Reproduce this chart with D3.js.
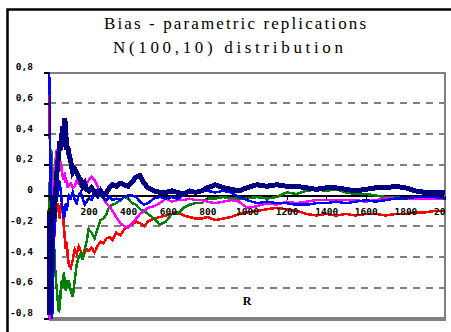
<!DOCTYPE html>
<html>
<head>
<meta charset="utf-8">
<script src="https://cdnjs.cloudflare.com/ajax/libs/d3/7.8.5/d3.min.js"></script>
<style>
  html, body { margin: 0; padding: 0; background: #fff; overflow: hidden; }
  svg { display: block; }
  .serif { font-family: "Liberation Serif", "Times New Roman", "DejaVu Serif", serif; }
  .mono { font-family: "DejaVu Sans Mono", "Liberation Mono", monospace; font-weight: bold; }
</style>
</head>
<body>
<svg id="chart" width="451" height="332"></svg>
<script>
// Number of replications R at which the running bias is recorded
const replications = [1,2,4,6,8,10,13,16,20,25,30,35,40,45,50,55,60,65,70,75,80,85,90,95,100,110,120,130,140,150,160,170,180,190,200,215,230,245,260,275,290,305,320,340,360,380,400,420,440,460,480,500,530,560,590,620,650,680,710,740,770,800,840,880,920,960,1000,1050,1100,1150,1200,1250,1300,1350,1400,1450,1500,1550,1600,1650,1700,1750,1800,1850,1900,1950,2000];

// Running bias for each replication run
const biasRed = [0.8,0.62,0.35,0.15,-0.05,-0.2,-0.35,-0.5,-0.4,-0.3,-0.2,-0.12,-0.08,-0.05,-0.1,-0.15,-0.05,-0.08,-0.1,-0.2,-0.28,-0.35,-0.3,-0.4,-0.45,-0.47,-0.42,-0.35,-0.38,-0.33,-0.36,-0.4,-0.37,-0.35,-0.36,-0.34,-0.37,-0.33,-0.3,-0.31,-0.28,-0.27,-0.29,-0.24,-0.26,-0.22,-0.2,-0.19,-0.17,-0.18,-0.2,-0.17,-0.15,-0.14,-0.13,-0.12,-0.11,-0.13,-0.14,-0.15,-0.15,-0.14,-0.16,-0.15,-0.14,-0.12,-0.11,-0.1,-0.09,-0.08,-0.09,-0.1,-0.12,-0.13,-0.12,-0.13,-0.12,-0.13,-0.12,-0.12,-0.13,-0.12,-0.12,-0.11,-0.11,-0.1,-0.1];
const biasGreen = [-0.3,-0.1,0.1,0.2,0.25,0.3,0.28,0.15,-0.1,-0.3,-0.45,-0.55,-0.62,-0.7,-0.76,-0.72,-0.6,-0.55,-0.6,-0.5,-0.58,-0.62,-0.55,-0.6,-0.55,-0.62,-0.66,-0.55,-0.45,-0.4,-0.38,-0.42,-0.35,-0.3,-0.22,-0.24,-0.28,-0.22,-0.16,-0.15,-0.12,-0.07,-0.06,-0.05,-0.03,-0.01,-0.02,-0.05,-0.06,-0.09,-0.1,-0.12,-0.15,-0.19,-0.17,-0.12,-0.12,-0.08,-0.06,-0.05,-0.05,-0.02,-0.02,-0.01,-0.02,-0.02,-0.02,-0.01,-0.02,-0.01,0.02,0.01,0.03,0.04,0.03,0.04,0.02,0.01,0.01,0.0,-0.01,-0.01,-0.02,-0.01,-0.02,-0.02,-0.02];
const biasMagenta = [-0.8,-0.8,-0.75,-0.6,-0.4,-0.2,0.0,-0.1,0.05,0.1,0.2,0.25,0.3,0.28,0.25,0.2,0.22,0.15,0.12,0.1,0.15,0.08,0.1,0.05,0.07,0.08,0.05,0.06,0.1,0.08,0.06,0.04,0.05,0.08,0.1,0.12,0.1,0.06,0.02,-0.02,-0.05,-0.07,-0.1,-0.14,-0.18,-0.2,-0.21,-0.18,-0.15,-0.12,-0.1,-0.08,-0.07,-0.05,-0.02,-0.04,-0.03,-0.03,-0.02,-0.03,-0.03,-0.04,-0.05,-0.04,-0.03,-0.04,-0.08,-0.07,-0.05,-0.06,-0.04,-0.05,-0.04,-0.03,-0.03,-0.03,-0.03,-0.03,-0.04,-0.03,-0.02,-0.02,-0.02,-0.02,-0.02,-0.02,-0.02];
const biasBlue = [0.8,0.7,0.65,0.3,0.1,-0.2,-0.5,-0.8,-0.6,-0.3,-0.15,-0.05,0.05,0.0,0.1,0.08,0.02,-0.05,-0.1,-0.15,-0.12,-0.05,-0.1,-0.05,0.0,-0.02,0.02,-0.03,-0.05,0.0,0.02,-0.02,-0.06,-0.04,-0.02,-0.03,0.02,0.04,0.0,-0.02,-0.03,-0.01,-0.03,-0.02,-0.03,-0.01,0.0,0.0,-0.01,-0.04,-0.06,-0.05,-0.02,-0.01,-0.02,-0.01,-0.02,0.0,0.02,0.03,0.03,0.03,0.02,0.03,0.02,-0.01,-0.03,-0.05,-0.04,-0.05,-0.05,-0.06,-0.06,-0.05,-0.05,-0.04,-0.05,-0.04,-0.03,-0.04,-0.03,-0.02,-0.02,-0.01,-0.01,-0.01,-0.02];
const biasNavy = [-0.1,-0.4,-0.78,-0.6,-0.75,-0.5,-0.2,-0.1,0.0,-0.15,-0.05,0.05,0.15,0.22,0.28,0.35,0.3,0.4,0.45,0.42,0.5,0.4,0.3,0.32,0.27,0.22,0.15,0.17,0.15,0.12,0.1,0.06,0.08,0.04,0.03,0.05,0.02,0.0,0.03,0.0,0.02,0.05,0.07,0.06,0.08,0.07,0.06,0.09,0.12,0.13,0.08,0.05,0.03,0.02,0.02,0.03,0.02,0.01,0.03,0.02,0.03,0.05,0.07,0.05,0.04,0.03,0.05,0.07,0.06,0.07,0.06,0.06,0.05,0.04,0.05,0.05,0.04,0.03,0.04,0.05,0.05,0.06,0.05,0.03,0.02,0.02,0.02];

// Axis ticks and labels
const yTicks = [0.8,0.6,0.4,0.2,0,-0.2,-0.4,-0.6,-0.8];
const yTickLabels = ["0,8","0,6","0,4","0,2","0","-0,2","-0,4","-0,6","-0,8"];
const xTicks = [0,200,400,600,800,1000,1200,1400,1600,1800,2000];
const titleLines = ["Bias - parametric replications", "N(100,10) distribution"];
const xAxisTitle = "R";

const seriesList = [
  { values: biasRed,     color: "#ff0000", width: 2.5 },
  { values: biasGreen,   color: "#008000", width: 2.5 },
  { values: biasMagenta, color: "#ff00ff", width: 2.5 },
  { values: biasBlue,    color: "#0000ff", width: 2.5 },
  { values: biasNavy,    color: "#000080", width: 5 }
];

const svg = d3.select("#chart");
const plotLeft = 49, plotRight = 445, plotTop = 72.5, plotBottom = 318.5;

const x = d3.scaleLinear().domain([0, 2000]).range([plotLeft, plotRight]);
const y = d3.scaleLinear().domain([-0.8, 0.8]).range([plotBottom, plotTop]);

svg.append("rect").attr("width", 451).attr("height", 332).attr("fill", "#fff");

// Chart area frame
svg.append("rect")
  .attr("x", 7.5).attr("y", 9.5).attr("width", 600).attr("height", 500)
  .attr("fill", "none").attr("stroke", "#000").attr("stroke-width", 2.5);

// Title
const title = svg.append("g").attr("class", "serif")
  .attr("font-size", 17).attr("fill", "#000").attr("text-anchor", "middle");
title.append("text").attr("x", 235).attr("y", 29).attr("textLength", 262)
  .attr("lengthAdjust", "spacing").text(titleLines[0]);
title.append("text").attr("x", 228).attr("y", 53).attr("textLength", 230)
  .attr("lengthAdjust", "spacing").text(titleLines[1]);

// Horizontal gridlines
const grid = svg.append("g").attr("shape-rendering", "crispEdges");
yTicks.forEach(v => {
  const gl = grid.append("line")
    .attr("x1", plotLeft).attr("x2", plotRight)
    .attr("y1", y(v)).attr("y2", y(v));
  if (v === 0.8) {
    gl.attr("stroke", "#808080").attr("stroke-width", 2);
  } else if (v === -0.8) {
    gl.attr("stroke", "#808080").attr("stroke-width", 4);
  } else if (v === 0) {
    gl.attr("stroke", "#000").attr("stroke-width", 2);
  } else {
    gl.attr("stroke", "#808080").attr("stroke-width", 2).attr("stroke-dasharray", "7,6");
  }
});

// Right edge of plot area
grid.append("line")
  .attr("x1", plotRight).attr("x2", plotRight).attr("y1", plotTop - 1).attr("y2", plotBottom + 2)
  .attr("stroke", "#808080").attr("stroke-width", 2);

// Series
const lineGen = d3.line()
  .x((d, i) => x(replications[i]))
  .y(d => y(d));

svg.append("g").selectAll("path")
  .data(seriesList)
  .join("path")
  .attr("d", s => lineGen(s.values))
  .attr("fill", "none")
  .attr("stroke", s => s.color)
  .attr("stroke-width", s => s.width)
  .attr("stroke-linejoin", "miter")
  .attr("shape-rendering", "crispEdges");

// Y axis
const yAxis = d3.axisLeft(y)
  .tickValues(yTicks)
  .tickFormat((d, i) => yTickLabels[i])
  .tickSize(5)
  .tickPadding(11);
const yAxisG = svg.append("g").attr("transform", `translate(${plotLeft},0)`).call(yAxis);
yAxisG.attr("font-family", null).attr("font-size", null);
yAxisG.select(".domain").remove();
yAxisG.selectAll(".tick line").attr("stroke", "#000").attr("stroke-width", 2)
  .attr("shape-rendering", "crispEdges");
yAxisG.selectAll(".tick text")
  .attr("class", "mono").attr("font-size", 9.5)
  .attr("fill", "#000").attr("dy", 0).attr("y", -3);

// X axis along the zero line
svg.append("defs").append("clipPath").attr("id", "plotClip")
  .append("rect").attr("x", 0).attr("y", 0).attr("width", plotRight + 1).attr("height", 332);
const xAxis = d3.axisBottom(x)
  .tickValues(xTicks)
  .tickFormat(d3.format("d"))
  .tickSize(4)
  .tickPadding(9);
const xAxisG = svg.append("g")
  .attr("transform", `translate(0,${y(0)})`)
  .attr("clip-path", "url(#plotClip)")
  .call(xAxis);
xAxisG.attr("font-family", null).attr("font-size", null);
xAxisG.select(".domain").remove();
xAxisG.selectAll(".tick line").attr("stroke", "#000").attr("stroke-width", 1)
  .attr("shape-rendering", "crispEdges");
xAxisG.selectAll(".tick text")
  .attr("class", "mono").attr("font-size", 9.5)
  .attr("fill", "#000");

// X axis title
svg.append("text").attr("class", "serif")
  .attr("x", 247).attr("y", 305)
  .attr("text-anchor", "middle")
  .attr("font-weight", "bold").attr("font-size", 12)
  .text(xAxisTitle);
</script>
</body>
</html>
